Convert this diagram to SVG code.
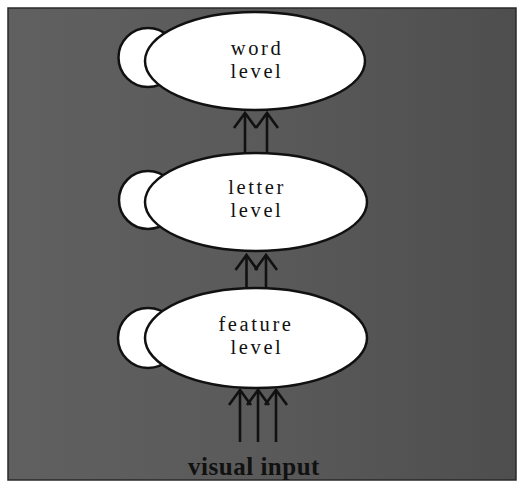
<svg xmlns="http://www.w3.org/2000/svg" width="517" height="481" viewBox="0 0 517 481">
<defs>
<style>
.node{fill:#ffffff;stroke:#111;stroke-width:2.5}
.lbl{font-family:"Liberation Serif","Times New Roman",serif;font-size:20.5px;letter-spacing:2.6px;fill:#111;text-anchor:middle}
.in{font-family:"Liberation Serif","Times New Roman",serif;font-size:25px;font-weight:bold;letter-spacing:0.5px;fill:#111;text-anchor:middle}
.arr{stroke:#111;stroke-width:2.6;fill:none;marker-end:url(#chev)}
</style>
<linearGradient id="g" x1="0" y1="0" x2="1" y2="0">
<stop offset="0" stop-color="#606060"/>
<stop offset="0.5" stop-color="#5a5a5a"/>
<stop offset="1" stop-color="#4e4e4e"/>
</linearGradient>
<marker id="chev" markerUnits="userSpaceOnUse" viewBox="-18 -14 21 28" markerWidth="21" markerHeight="28" refX="0" refY="0" orient="auto">
<path d="M-15,-11 L0,0 L-15,11" fill="none" stroke="#111" stroke-width="2.6"/>
</marker>
</defs>
<rect x="8" y="8" width="508" height="472" fill="url(#g)" stroke="#2a2a2a" stroke-width="1.5"/>
<g id="connectors">
<line class="arr" x1="245" y1="152" x2="245" y2="113"/>
<line class="arr" x1="267" y1="152" x2="267" y2="113"/>
<line class="arr" x1="246.5" y1="288" x2="246.5" y2="255"/>
<line class="arr" x1="266" y1="288" x2="266" y2="255"/>
<line class="arr" x1="240" y1="442" x2="240" y2="390"/>
<line class="arr" x1="258" y1="442" x2="258" y2="390"/>
<line class="arr" x1="276" y1="442" x2="276" y2="390"/>
</g>
<g id="word">
<circle class="node" cx="148" cy="57.5" r="29.5"/>
<ellipse class="node" cx="255" cy="61" rx="110" ry="49"/>
<text class="lbl"><tspan x="257" y="55">word</tspan><tspan x="257" y="78">level</tspan></text>
</g>
<g id="letter">
<circle class="node" cx="148" cy="200" r="29"/>
<ellipse class="node" cx="256" cy="202" rx="111" ry="49"/>
<text class="lbl"><tspan x="257" y="194">letter</tspan><tspan x="257" y="217">level</tspan></text>
</g>
<g id="feature">
<circle class="node" cx="148" cy="338" r="30"/>
<ellipse class="node" cx="256" cy="338" rx="111" ry="50"/>
<text class="lbl"><tspan x="256" y="331">feature</tspan><tspan x="257" y="354">level</tspan></text>
</g>
<g id="input">
<text class="in" x="254" y="475">visual input</text>
</g>
</svg>
